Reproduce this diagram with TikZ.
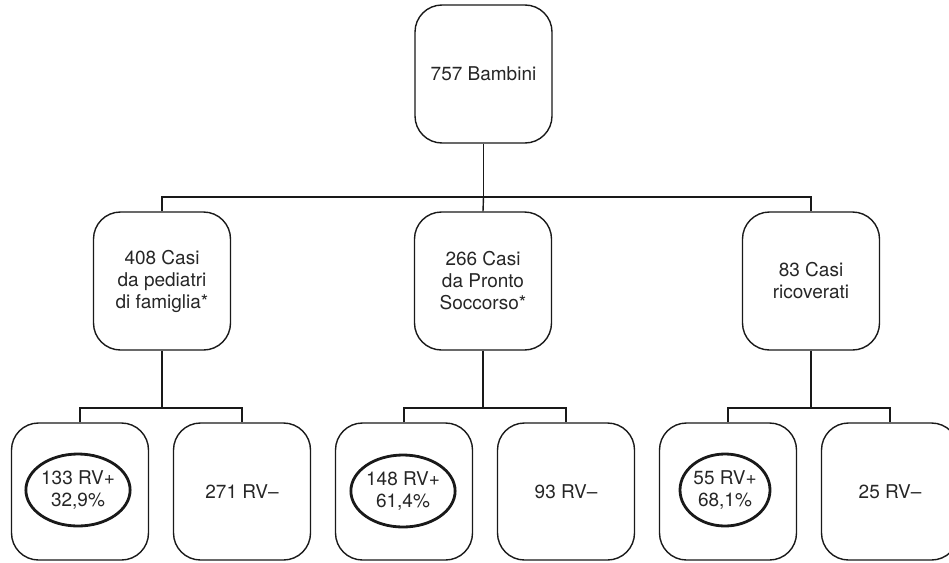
\documentclass[tikz,border=0pt]{standalone}
\usepackage{fontspec}
\setmainfont{TeX Gyre Heros}
\usetikzlibrary{shapes.geometric}
\begin{document}
\begin{tikzpicture}[x=1pt,y=-1pt,
  box/.style={draw=black!90, line width=1.4pt, rounded corners=27pt, minimum width=137pt, minimum height=137pt, align=center, inner sep=0pt, font=\fontsize{19}{22}\selectfont, text=black!85},
  oval/.style={draw=black!90, ellipse, line width=2.8pt, minimum width=90pt, minimum height=72pt, inner sep=0pt, align=center, font=\fontsize{19}{22}\selectfont, text=black!85},
  link/.style={draw=black!90, line width=1.4pt}]
\useasboundingbox (0,0) rectangle (949,562);
% top
\node[box, minimum height=138pt] (top) at (483.5,74) {757 Bambini};
% middle
\node[box, minimum height=138pt] (m1) at (162,281) {408 Casi\\da pediatri\\di famiglia*};
\node[box, minimum height=138pt] (m2) at (483,281) {266 Casi\\da Pronto\\Soccorso*};
\node[box, minimum height=138pt] (m3) at (811,281) {83 Casi\\ricoverati};
% bottom
\node[box] (b1) at (80,491.5) {};
\node[box] (b2) at (242,491.5) {271 RV–};
\node[box] (b3) at (404,491.5) {};
\node[box] (b4) at (566,491.5) {93 RV–};
\node[box] (b5) at (728,491.5) {};
\node[box] (b6) at (890,491.5) {25 RV–};
% ovals
\node[oval] (e1) at (78,490) {133 RV+\\32,9\%};
\node[oval] (e3) at (403,491) {148 RV+\\61,4\%};
\node[oval] (e5) at (725,490) {55 RV+\\68,1\%};
% connectors
\coordinate (t0) at (483.5,197);
\draw[link] (top.south) -- (t0);
\draw[link] (m1.north) |- (t0) -| (m3.north);
\draw[link] (t0) -- (m2.north);
\coordinate (j1) at (162,408);
\coordinate (j2) at (483,408);
\coordinate (j3) at (811,408);
\draw[link] (m1.south) -- (j1);
\draw[link] (b1.north) |- (j1) -| (b2.north);
\draw[link] (m2.south) -- (j2);
\draw[link] (b3.north) |- (j2) -| (b4.north);
\draw[link] (m3.south) -- (j3);
\draw[link] (b5.north) |- (j3) -| (b6.north);
\end{tikzpicture}
\end{document}
